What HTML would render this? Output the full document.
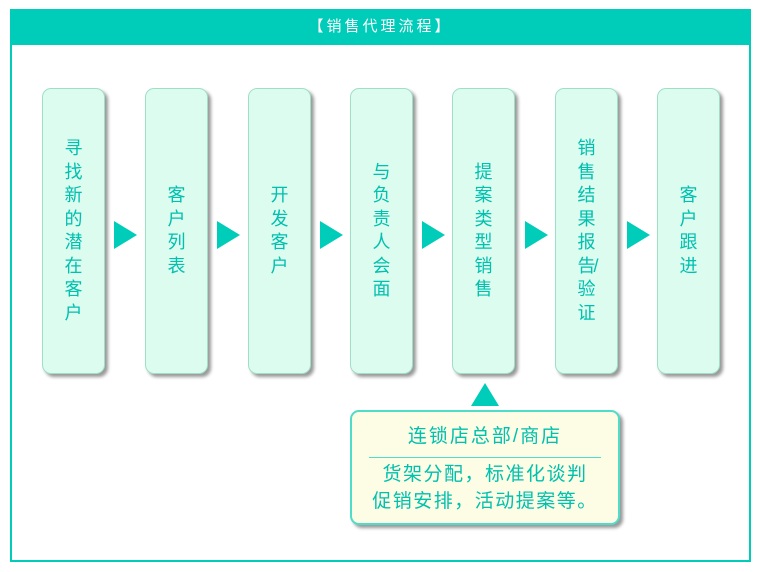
<!DOCTYPE html><html><head><meta charset="utf-8"><style>
body{margin:0;width:760px;height:572px;background:#fff;position:relative;font-family:"Liberation Sans","Noto Sans CJK SC",sans-serif;overflow:hidden}
.frame{position:absolute;left:10px;top:9px;width:737px;height:549px;border:2px solid #00cdb9}
.hdr{position:absolute;left:10px;top:9px;width:741px;height:36px;background:#00cdb9;color:#fff;font-size:15px;text-align:center;line-height:36px;letter-spacing:3px}
.box{position:absolute;top:88px;width:61px;height:284px;background:#dcfcf0;border:1px solid #9fdfc8;border-radius:9px;box-shadow:3px 3px 3px #999;color:#00c0ae;font-size:18px;display:flex;align-items:center;justify-content:center}
.box span{width:18px;line-height:23.5px;text-align:center}
.tri{position:absolute;top:221px;width:0;height:0;border-top:14px solid transparent;border-bottom:14px solid transparent;border-left:23px solid #00cdb9}
.note{position:absolute;left:350px;top:410px;width:266px;height:111px;background:#fcfde4;border:2px solid #4fdcc8;border-radius:9px;box-shadow:3px 3px 3px #999;color:#00c0ae;font-size:19px;text-align:center}
</style></head><body>
<div class="frame"></div>
<div class="hdr">【销售代理流程】</div>
<div class="box" style="left:42px"><span>寻找新的潜在客户</span></div>
<div class="box" style="left:145px"><span>客户列表</span></div>
<div class="box" style="left:248px"><span>开发客户</span></div>
<div class="box" style="left:350px"><span>与负责人会面</span></div>
<div class="box" style="left:452px"><span>提案类型销售</span></div>
<div class="box" style="left:555px"><span>销售结果报告<span style="margin-left:-2px">/</span>验证</span></div>
<div class="box" style="left:657px"><span>客户跟进</span></div>
<div class="tri" style="left:114px"></div>
<div class="tri" style="left:217px"></div>
<div class="tri" style="left:320px"></div>
<div class="tri" style="left:422px"></div>
<div class="tri" style="left:525px"></div>
<div class="tri" style="left:627px"></div>
<div style="position:absolute;left:471px;top:383px;width:0;height:0;border-left:14px solid transparent;border-right:14px solid transparent;border-bottom:23px solid #00cdb9"></div>
<div class="note">
<div style="margin-top:12px;line-height:26px;letter-spacing:2px">连锁店总部/商店</div>
<div style="margin:7px auto 0;width:232px;border-top:1px solid #4fdcc8"></div>
<div style="margin-top:3px;line-height:27px;letter-spacing:1.5px">货架分配，标准化谈判<br>促销安排，活动提案等。</div>
</div>
</body></html>
